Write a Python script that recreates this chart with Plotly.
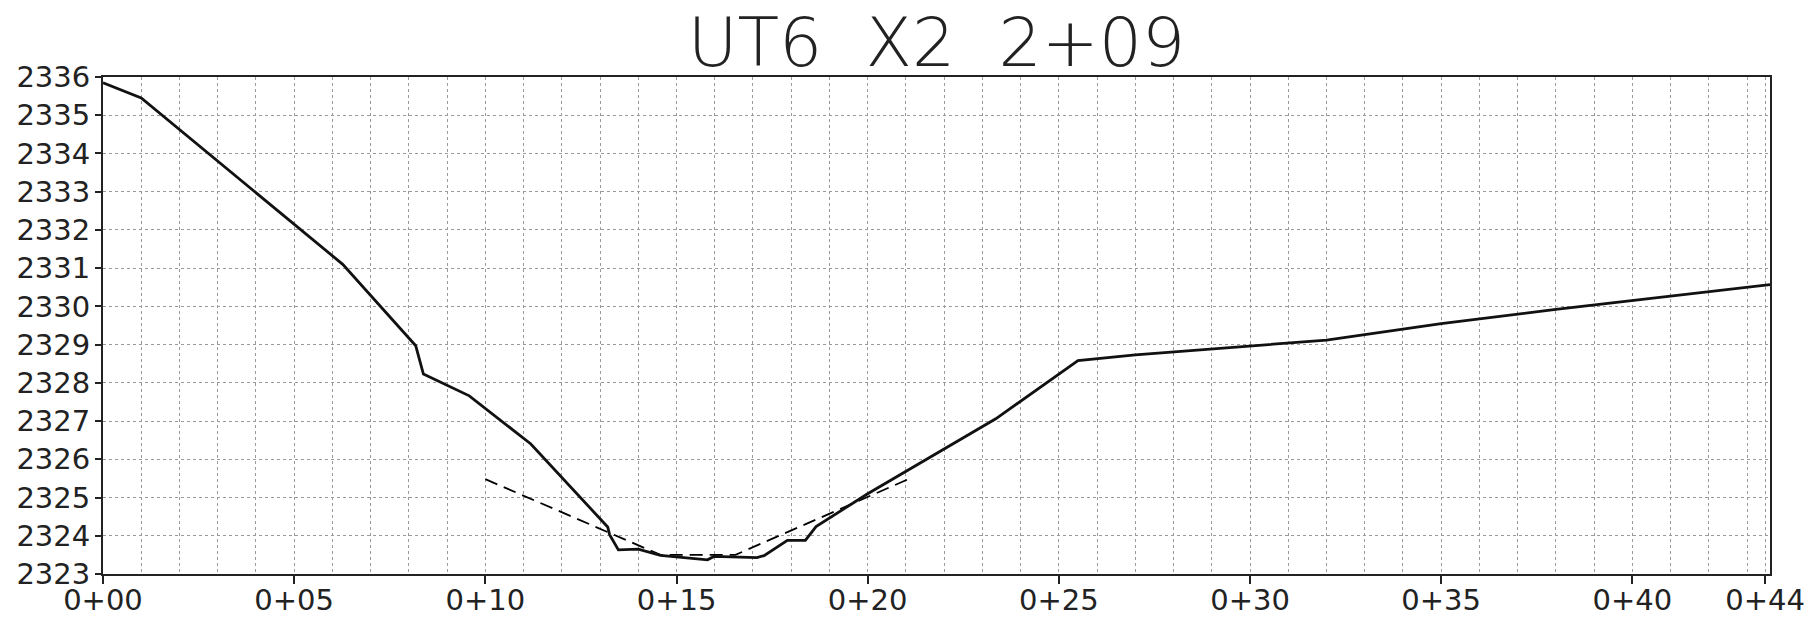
import plotly.graph_objects as go

# Ground profile (station offset, elevation)
ground_x = [0.0, 1.0, 6.27, 8.18, 8.38, 9.58, 11.19, 13.2, 13.25, 13.48, 14.0, 14.58,
            15.81, 15.98, 17.1, 17.29, 17.9, 18.37, 18.65, 20.0, 23.35, 25.5, 27.0,
            30.0, 32.0, 35.0, 38.0, 43.6]
ground_y = [2335.85, 2335.45, 2331.1, 2328.97, 2328.23, 2327.66, 2326.4, 2324.23, 2324.03,
            2323.63, 2323.65, 2323.49, 2323.37, 2323.46, 2323.43, 2323.48, 2323.88, 2323.88,
            2324.24, 2325.1, 2327.06, 2328.58, 2328.73, 2328.96, 2329.12, 2329.55, 2329.92,
            2330.57]

# Design channel (dashed)
design_x = [10.0, 14.58, 16.54, 21.06]
design_y = [2325.48, 2323.5, 2323.5, 2325.48]

x_tick_vals = [0, 5, 10, 15, 20, 25, 30, 35, 40, 43.47]
x_tick_text = ["0+00", "0+05", "0+10", "0+15", "0+20", "0+25", "0+30", "0+35", "0+40", "0+44"]
y_min, y_max = 2323, 2336
title_text = "UT6\u00a0\u00a0X2\u00a0\u00a02+09"

fig = go.Figure()
fig.add_trace(go.Scatter(x=design_x, y=design_y, mode="lines",
                         line=dict(color="black", width=1.8, dash="13px,7px"),
                         showlegend=False, hoverinfo="skip"))
fig.add_trace(go.Scatter(x=ground_x, y=ground_y, mode="lines",
                         line=dict(color="#111111", width=2.8),
                         showlegend=False))

tick_font = dict(family="DejaVu Sans", size=29, color="#222222")
fig.update_layout(
    width=1806, height=618,
    margin=dict(l=103, r=36, t=77, b=44, autoexpand=False),
    paper_bgcolor="white", plot_bgcolor="white",
    title=dict(text=title_text, x=0.5, xanchor="center", xref="paper",
               y=1, yref="container", yanchor="top", pad=dict(t=18),
               automargin=False,
               font=dict(family="DejaVu Sans", size=68, color="#222222", weight=200)),
    xaxis=dict(range=[0, 43.6], tickmode="array", tickvals=x_tick_vals, ticktext=x_tick_text,
               showgrid=True, gridcolor="#9a9a9a", griddash="dot", gridwidth=1,
               minor=dict(dtick=1, tick0=0, showgrid=True, gridcolor="#9a9a9a",
                          griddash="dot", gridwidth=1, ticks=""),
               showline=True, linecolor="#222222", linewidth=2, mirror=True,
               ticks="outside", ticklen=8, tickwidth=2, tickcolor="#222222",
               tickfont=tick_font, zeroline=False, ticklabeloverflow="allow",
               ticklabelstandoff=-9, automargin=False),
    yaxis=dict(range=[y_min, y_max], dtick=1, tick0=y_min,
               showgrid=True, gridcolor="#9a9a9a", griddash="dot", gridwidth=1,
               showline=True, linecolor="#222222", linewidth=2, mirror=True,
               ticks="outside", ticklen=6, tickwidth=2, tickcolor="#222222",
               tickfont=tick_font, zeroline=False, ticklabelstandoff=-1,
               automargin=False),
)

fig.write_html("out.html",
               config={"displayModeBar": False},
               post_script="document.body.style.margin='0px';"
                           "document.body.style.overflow='hidden';")
